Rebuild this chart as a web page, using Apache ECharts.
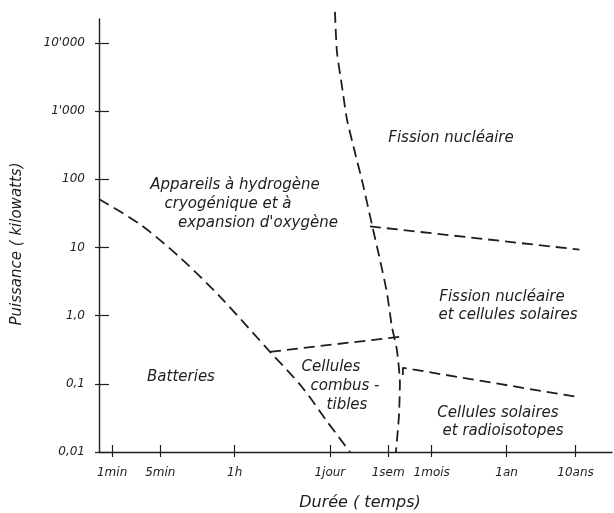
<!DOCTYPE html>
<html>
<head>
<meta charset="utf-8">
<script src="https://cdn.jsdelivr.net/npm/echarts@6/dist/echarts.min.js"></script>
<style>
  html, body { margin: 0; padding: 0; background: #fff; }
</style>
</head>
<body>
<div id="main" style="width: 614px; height: 513px"></div>
<script>
// duree (axe horizontal, en minutes, echelle log)
var xTickLabels = ['1min', '5min', '1h', '1jour', '1sem', '1mois', '1an', '10ans'];
var xTickMinutes = [1, 5, 60, 1440, 10080, 43200, 525600, 5256000];
// puissance (kW, echelle log)
var yTickLabels = ['0,01', '0,1', '1,0', '10', '100', "1'000", "10'000"];
var yTickKw = [0.01, 0.1, 1, 10, 100, 1000, 10000];

// frontieres entre domaines : duree (min) / puissance (kW)
var batteryMin = [0.65, 2.55, 9.7, 36.7, 195, 567, 1350, 2820];
var batteryKw = [51, 21.8, 7.1, 1.9, 0.295, 0.09, 0.027, 0.01];

var hydrogenMin = [1706, 1824, 2155, 2545, 3325, 4345, 5860, 7655, 9680, 11430, 13500, 14930, 14430, 13060];
var hydrogenKw = [28580, 7380, 2335, 762, 249, 84.4, 21.8, 6.66, 2.18, 0.69, 0.316, 0.1035, 0.0327, 0.01];

var fissionMin = [5480, 6000000];
var fissionKw = [20.4, 9.3];

var fuelCellMin = [195, 14930];
var fuelCellKw = [0.295, 0.49];

var solarMin = [16500, 16500, 5670000];
var solarKw = [0.135, 0.172, 0.064];

var ink = '#1e1e1e';
var lg = Math.log10;

// les deux axes sont logarithmiques : on trace en log10
function boundary(mins, kws, smooth) {
  return {
    type: 'line',
    data: mins.map(function (m, i) { return [lg(m), lg(kws[i])]; }),
    showSymbol: false,
    smooth: smooth,
    clip: false,
    silent: true,
    lineStyle: { color: ink, width: 1.8, type: [11, 6] }
  };
}

function txt(x, y, s, size) {
  return {
    type: 'text', x: x, y: y, silent: true,
    style: {
      text: s, fill: ink, align: 'center', verticalAlign: 'middle',
      font: 'italic ' + (size || 15) + 'px "DejaVu Sans"'
    }
  };
}

function pick(values, labels) {
  return function (v) {
    for (var i = 0; i < values.length; i++) {
      if (Math.abs(values[i] - v) < 1e-6) return labels[i];
    }
    return '';
  };
}

var xTickValues = xTickMinutes.map(lg);
var yTickValues = yTickKw.map(lg);
var tickStyle = { color: ink, width: 1.2 };
var labelFont = { color: ink, fontFamily: 'DejaVu Sans', fontStyle: 'italic', fontSize: 12 };

var xBase = { type: 'value', min: -0.19, max: 7.25, splitLine: { show: false } };
var yBase = { type: 'value', min: -2, max: 4.352, splitLine: { show: false } };

var option = {
  animation: false,
  backgroundColor: '#fff',
  grid: { left: 99, right: 2, top: 19, bottom: 61 },
  xAxis: [
    Object.assign({}, xBase, {
      position: 'bottom',
      axisLine: { onZero: false, lineStyle: { color: ink, width: 1.4 } },
      axisTick: { length: 5, customValues: xTickValues, lineStyle: tickStyle },
      axisLabel: Object.assign({
        customValues: xTickValues, margin: 15,
        formatter: pick(xTickValues, xTickLabels)
      }, labelFont)
    }),
    Object.assign({}, xBase, {
      position: 'bottom',
      axisLine: { show: false, onZero: false },
      axisTick: { inside: true, length: 7, customValues: xTickValues, lineStyle: tickStyle },
      axisLabel: { show: false }
    })
  ],
  yAxis: [
    Object.assign({}, yBase, {
      position: 'left',
      axisLine: { show: true, onZero: false, lineStyle: { color: ink, width: 1.4 } },
      axisTick: { show: true, length: 4, customValues: yTickValues, lineStyle: tickStyle },
      axisLabel: Object.assign({
        customValues: yTickValues, margin: 14,
        formatter: pick(yTickValues, yTickLabels)
      }, labelFont)
    }),
    Object.assign({}, yBase, {
      position: 'left',
      axisLine: { show: false, onZero: false },
      axisTick: { show: true, inside: true, length: 10, customValues: yTickValues, lineStyle: tickStyle },
      axisLabel: { show: false }
    })
  ],
  graphic: [
    txt(451, 138, 'Fission nucléaire'),
    txt(235, 185, 'Appareils à hydrogène'),
    txt(228, 204, 'cryogénique et à'),
    txt(258, 223, "expansion d'oxygène"),
    txt(502, 297, 'Fission nucléaire'),
    txt(508, 315, 'et cellules solaires'),
    txt(181, 377, 'Batteries'),
    txt(331, 367, 'Cellules'),
    txt(345, 386, 'combus -'),
    txt(347, 405, 'tibles'),
    txt(498, 413, 'Cellules solaires'),
    txt(503, 431, 'et radioisotopes'),
    txt(360, 503, 'Durée ( temps)', 16),
    {
      type: 'text', x: 17, y: 244, rotation: Math.PI / 2, silent: true,
      style: {
        text: 'Puissance ( kilowatts)', fill: ink, align: 'center', verticalAlign: 'middle',
        font: 'italic 15px "DejaVu Sans"'
      }
    }
  ],
  series: [
    boundary(batteryMin, batteryKw, 0.3),
    boundary(hydrogenMin, hydrogenKw, 0.2),
    boundary(fissionMin, fissionKw, false),
    boundary(fuelCellMin, fuelCellKw, false),
    boundary(solarMin, solarKw, false)
  ]
};

var myChart = echarts.init(document.getElementById('main'));
myChart.setOption(option);
</script>
</body>
</html>
